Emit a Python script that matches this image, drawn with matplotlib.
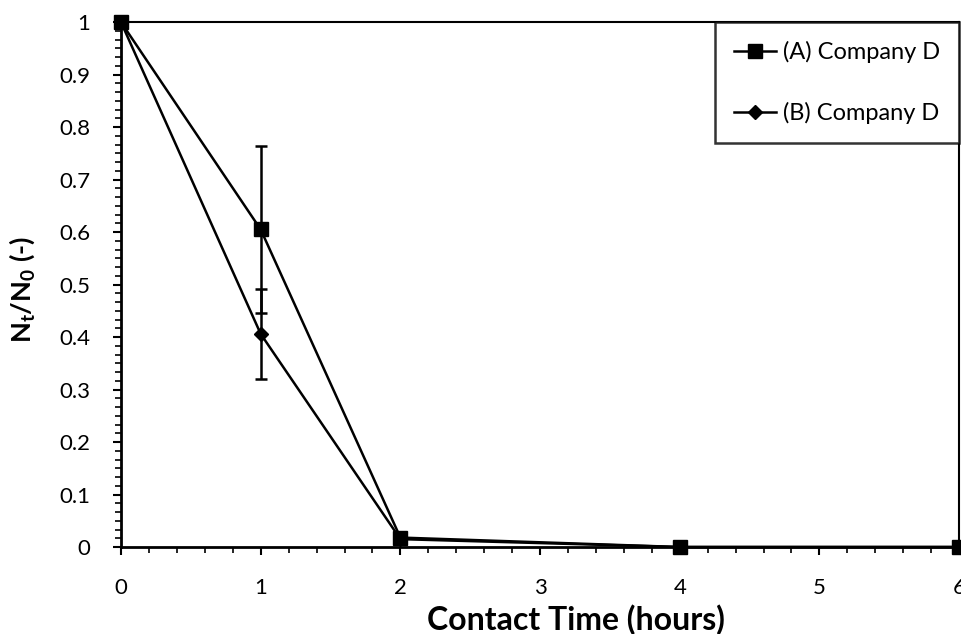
import matplotlib
matplotlib.use("Agg")
import matplotlib.pyplot as plt
from matplotlib.ticker import MultipleLocator, FuncFormatter
from matplotlib.lines import Line2D

plt.rcParams['font.family'] = ['Lato', 'DejaVu Sans']
plt.rcParams['mathtext.fontset'] = 'custom'
plt.rcParams['mathtext.rm'] = 'Lato:bold'
plt.rcParams['mathtext.bf'] = 'Lato:bold'

time_a = [0, 1, 2, 4, 6]
ratio_a = [1.0, 0.605, 0.018, 0.0, 0.0]
err_a = [0, 0.16, 0, 0, 0]

time_b = [0, 1, 2, 4, 6]
ratio_b = [1.0, 0.406, 0.015, 0.0, 0.0]
err_b = [0, 0.085, 0, 0, 0]

labels = ['(A) Company D', '(B) Company D']

W, H = 962, 634
fig = plt.figure(figsize=(W / 100, H / 100), dpi=100)
ax = fig.add_axes([0.1258, 0.1372, 0.8712, 0.8278])

lw = 1.8
ax.errorbar(time_a, ratio_a, yerr=err_a, color='black', lw=lw, marker='s',
            ms=10, capsize=4.5, capthick=lw, elinewidth=lw, clip_on=False, zorder=3)
ax.errorbar(time_b, ratio_b, yerr=err_b, color='black', lw=lw, marker='D',
            ms=7, capsize=4.5, capthick=lw, elinewidth=lw, clip_on=False, zorder=3)

ax.set_xlim(0, 6)
ax.set_ylim(0, 1)
ax.xaxis.set_major_locator(MultipleLocator(1))
ax.xaxis.set_minor_locator(MultipleLocator(0.2))
ax.yaxis.set_major_locator(MultipleLocator(0.1))
ax.yaxis.set_minor_locator(MultipleLocator(1 / 60))
ax.yaxis.set_major_formatter(FuncFormatter(lambda v, p: ('%g' % round(v, 2))))

for s in ['left', 'bottom']:
    ax.spines[s].set_linewidth(2)
for s in ['top', 'right']:
    ax.spines[s].set_linewidth(1.5)

ax.tick_params(axis='both', which='major', direction='out', length=6, width=1.5,
               labelsize=16)
ax.tick_params(axis='both', which='minor', direction='out', length=4, width=1.2)
ax.tick_params(axis='x', which='major', pad=16)
ax.tick_params(axis='y', which='major', pad=16)

ax.set_xlabel('Contact Time (hours)', fontsize=23, fontweight='bold')
ax.set_ylabel(r'N$_{\mathbf{t}}$/N$_{\mathbf{0}}$ (-)', fontsize=19.5, fontweight='bold')
# label positions in axes coordinates (the original chart is centred on a wider plot area)
ax.xaxis.set_label_coords((576 - 121) / (959 - 121), (547 - 620) / (547 - 22))
ax.xaxis.label.set_va('center')
ax.yaxis.set_label_coords((22 - 121) / (959 - 121), 0.49)
ax.yaxis.label.set_va('center')

handles = [Line2D([], [], color='black', lw=lw, marker='s', ms=10),
           Line2D([], [], color='black', lw=lw, marker='D', ms=7)]
leg = ax.legend(handles, labels, loc='upper right', bbox_to_anchor=(1.0, 1.0), fontsize=17,
                frameon=True, fancybox=False, edgecolor='black', handlelength=1.8,
                handletextpad=0.3, labelspacing=1.65, borderpad=0.8, borderaxespad=0)
leg.get_frame().set_linewidth(1.8)

fig.savefig('out.png', dpi=100)
